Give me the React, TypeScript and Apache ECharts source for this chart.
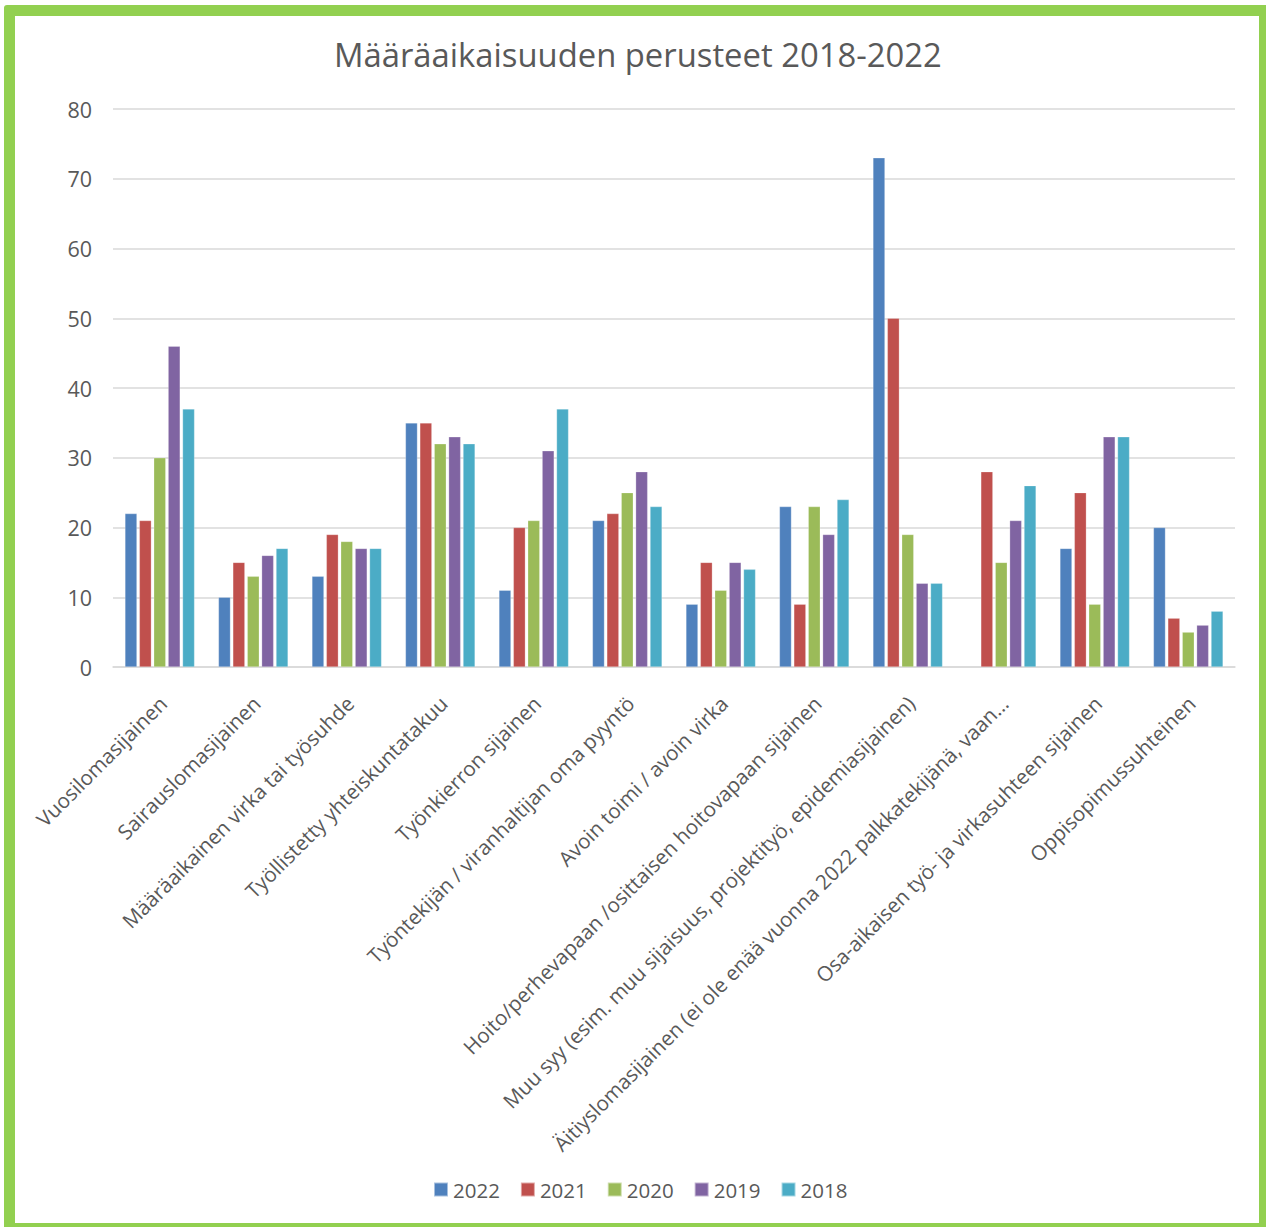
import React, { useEffect, useRef } from "react";
import * as echarts from "echarts";

const categories = [
  "Vuosilomasijainen",
  "Sairauslomasijainen",
  "Määräaikainen virka tai työsuhde",
  "Työllistetty yhteiskuntatakuu",
  "Työnkierron sijainen",
  "Työntekijän / viranhaltijan oma pyyntö",
  "Avoin toimi / avoin virka",
  "Hoito/perhevapaan /osittaisen hoitovapaan sijainen",
  "Muu syy (esim. muu sijaisuus, projektityö, epidemiasijainen)",
  "Äitiyslomasijainen (ei ole enää vuonna 2022 palkkatekijänä, vaan…",
  "Osa-aikaisen työ- ja virkasuhteen sijainen",
  "Oppisopimussuhteinen",
];

const seriesNames = ["2022", "2021", "2020", "2019", "2018"];
const colors = ["#4F81BD", "#C0504D", "#9BBB59", "#8064A2", "#4BACC6"];

const values2022 = [22, 10, 13, 35, 11, 21, 9, 23, 73, null, 17, 20];
const values2021 = [21, 15, 19, 35, 20, 22, 15, 9, 50, 28, 25, 7];
const values2020 = [30, 13, 18, 32, 21, 25, 11, 23, 19, 15, 9, 5];
const values2019 = [46, 16, 17, 33, 31, 28, 15, 19, 12, 21, 33, 6];
const values2018 = [37, 17, 17, 32, 37, 23, 14, 24, 12, 26, 33, 8];

const allValues = [values2022, values2021, values2020, values2019, values2018];

const yTicks = { min: 0, max: 80, interval: 10 };

export default function App() {
  const ref = useRef<HTMLDivElement>(null);

  useEffect(() => {
    if (!ref.current) return;
    const chart = echarts.init(ref.current, null, { renderer: "svg" });
    const font = "'Open Sans', sans-serif";
    chart.setOption({
      animation: false,
      backgroundColor: "#ffffff",
      title: {
        text: "Määräaikaisuuden perusteet 2018-2022",
        left: 329,
        top: 33,
        textStyle: {
          fontFamily: font,
          fontSize: 32.8,
          fontWeight: "normal",
          color: "#595959",
        },
      },
      legend: {
        data: seriesNames,
        top: 1174,
        left: 428,
        itemWidth: 14,
        itemHeight: 14,
        itemGap: 20,
        icon: "rect",
        textStyle: { fontFamily: font, fontSize: 20.5, color: "#595959" },
      },
      grid: { left: 113, right: 31, top: 109, bottom: 560 },
      xAxis: {
        type: "category",
        data: categories,
        axisLine: { show: true, lineStyle: { color: "#D9D9D9", width: 1.5 } },
        axisTick: { show: false },
        axisLabel: {
          interval: 0,
          rotate: 45,
          verticalAlign: "top",
          margin: 21,
          padding: [0, 6, 0, 0],
          fontFamily: font,
          fontSize: 20.6,
          color: "#595959",
        },
      },
      yAxis: {
        type: "value",
        min: yTicks.min,
        max: yTicks.max,
        interval: yTicks.interval,
        axisLine: { show: false },
        axisTick: { show: false },
        splitLine: { lineStyle: { color: "#D9D9D9", width: 1.5 } },
        axisLabel: {
          margin: 21,
          fontFamily: font,
          fontSize: 21.5,
          color: "#595959",
        },
      },
      series: seriesNames.map((name, i) => ({
        name,
        type: "bar",
        data: allValues[i],
        barWidth: 12,
        barGap: "20%",
        itemStyle: {
          color: colors[i],
          borderColor: "rgba(255,255,255,0.5)",
          borderWidth: 0.5,
        },
      })),
    });
    return () => chart.dispose();
  }, []);

  return (
    <div
      style={{
        position: "fixed",
        left: 0,
        top: 0,
        width: 1266,
        height: 1227,
        background: "#ffffff",
      }}
    >
      <div ref={ref} style={{ position: "absolute", left: 0, top: 0, width: 1266, height: 1227 }} />
      <div
        style={{
          position: "absolute",
          left: 4,
          top: 5,
          width: 1266,
          height: 1229,
          border: "11px solid #92D050",
          borderRadius: 3,
          boxSizing: "border-box",
          pointerEvents: "none",
        }}
      />
    </div>
  );
}
